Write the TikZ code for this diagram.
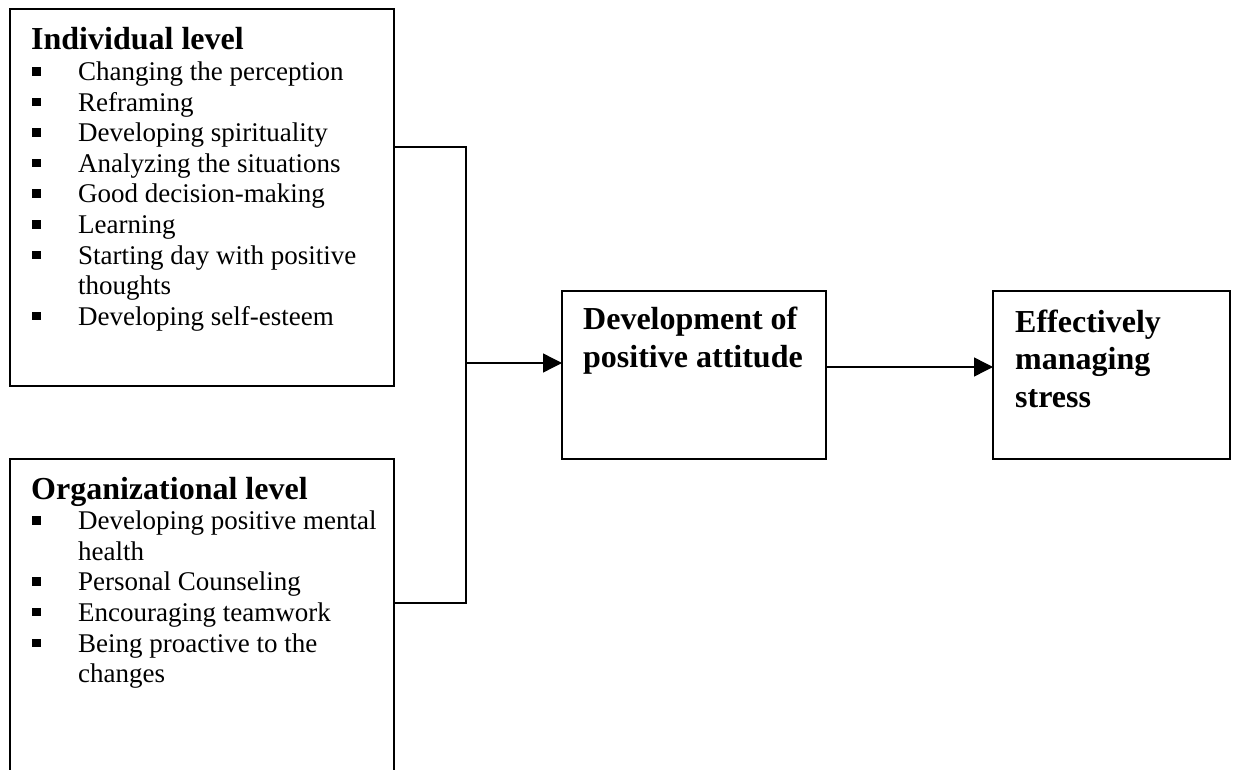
\documentclass[tikz,border=0pt]{standalone}
\usepackage{fontspec}
\setmainfont{Liberation Serif}
\usetikzlibrary{arrows.meta}
\tikzset{
  box/.style={draw, line width=1.6pt, rectangle, inner sep=0pt, outer sep=0pt, anchor=north west},
  conn/.style={line width=1.4pt},
  arr/.style={line width=1.4pt, -{Triangle[length=19pt,width=19pt]}},
  listtext/.style={anchor=base west, inner sep=0pt, text width=360pt, align=flush left, font=\fontsize{27}{30.6}\selectfont},
  headtext/.style={anchor=base west, inner sep=0pt, text width=230pt, align=flush left, font=\fontsize{32}{37.5}\selectfont\bfseries},
}
\newcommand{\bul}{\makebox[47pt][l]{\hspace{1pt}\rule[5pt]{8.5pt}{8.5pt}}}
\newcommand{\cont}{\hspace*{47pt}}
\newcommand{\ttl}[1]{{\fontsize{32}{30.6}\selectfont\bfseries #1}}
\begin{document}
\begin{tikzpicture}[x=1pt,y=-1pt]
\useasboundingbox (0,0) rectangle (1235,770);
\clip (0,0) rectangle (1235,770);
\node[box, minimum width=384pt, minimum height=377pt] (ind) at (10,9) {};
\node[box, minimum width=384pt, minimum height=340pt] (org) at (10,459) {};
\node[box, minimum width=264pt, minimum height=168pt] (att) at (562,291) {};
\node[box, minimum width=237pt, minimum height=168pt] (str) at (993,291) {};
\node[listtext] (indtext) at (31,50) {\ttl{Individual level}\\
\bul Changing the perception\\
\bul Reframing\\
\bul Developing spirituality\\
\bul Analyzing the situations\\
\bul Good decision-making\\
\bul Learning\\
\bul Starting day with positive\\
\cont thoughts\\
\bul Developing self-esteem};
\node[listtext] (orgtext) at (31,499) {\ttl{Organizational level}\\
\bul Developing positive mental\\
\cont health\\
\bul Personal Counseling\\
\bul Encouraging teamwork\\
\bul Being proactive to the\\
\cont changes};
\node[headtext] (atttext) at (583,330) {Development of\\positive attitude};
\node[headtext] (strtext) at (1015,332) {Effectively\\managing\\stress};
\coordinate (bendA) at (466,147);
\coordinate (bendB) at (466,603);
\coordinate (join) at (466,363);
\coordinate (out) at (826,367);
\draw[conn] (ind.east |- bendA) -- (bendA) -- (bendB) -- (org.east |- bendB);
\draw[arr] (join) -- (att.west |- join);
\draw[arr] (att.east |- out) -- (str.west |- out);
\end{tikzpicture}
\end{document}
